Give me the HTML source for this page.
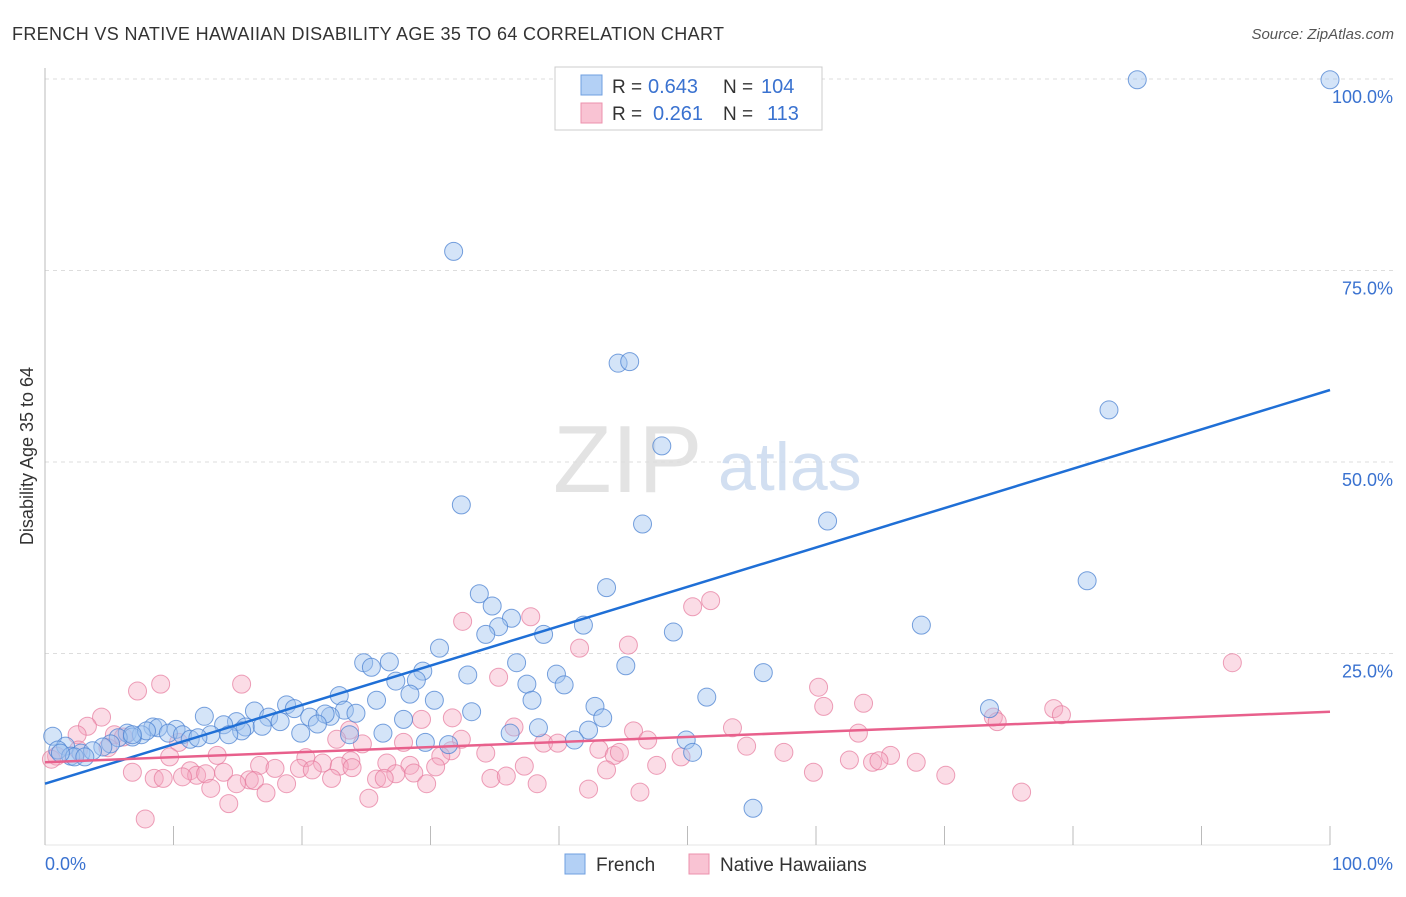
<!DOCTYPE html>
<html><head><meta charset="utf-8"><style>
body{margin:0;background:#fff;font-family:"Liberation Sans",sans-serif;}
svg text{font-family:"Liberation Sans",sans-serif;}
</style></head><body>
<svg id="chart" width="1406" height="892" xmlns="http://www.w3.org/2000/svg">
<text x="12" y="40" font-size="18" fill="#333" textLength="712">FRENCH VS NATIVE HAWAIIAN DISABILITY AGE 35 TO 64 CORRELATION CHART</text>
<text x="1394" y="39" font-size="15" fill="#555" text-anchor="end" font-style="italic">Source: ZipAtlas.com</text>
<g id="grid"></g>
<g>
<text x="553" y="492" font-size="96" font-family="Liberation Serif" fill="#ddd" opacity="0.8">ZIP</text>
<text x="718" y="490" font-size="68" fill="#c8d8ee" opacity="0.8">atlas</text>
</g>
<text transform="translate(33,456) rotate(-90)" font-size="18" fill="#333" text-anchor="middle">Disability Age 35 to 64</text>
<g id="points"></g>
<g id="trends"></g>
<g>
<rect x="555" y="67" width="267" height="63" fill="#fff" stroke="#ccc"/>
<rect x="581" y="75" width="21" height="20" fill="#b3d0f5" stroke="#6f9fe0"/>
<rect x="581" y="103" width="21" height="20" fill="#f9c3d3" stroke="#ec92ad"/>
<text x="612" y="93" font-size="19" fill="#333">R = </text><text x="648" y="93" font-size="20" fill="#3a72d0">0.643</text>
<text x="723" y="93" font-size="19" fill="#333">N = </text><text x="761" y="93" font-size="20" fill="#3a72d0">104</text>
<text x="612" y="120" font-size="19" fill="#333">R = </text><text x="653" y="120" font-size="20" fill="#3a72d0">0.261</text>
<text x="723" y="120" font-size="19" fill="#333">N = </text><text x="767" y="120" font-size="20" fill="#3a72d0">113</text>
</g>
<g>
<rect x="565" y="854" width="20" height="20" fill="#b3d0f5" stroke="#6f9fe0"/>
<text x="596" y="871" font-size="19" fill="#333">French</text>
<rect x="689" y="854" width="20" height="20" fill="#f9c3d3" stroke="#ec92ad"/>
<text x="720" y="871" font-size="19" fill="#333">Native Hawaiians</text>
</g>
</svg>
<script>
const yTicks=[25,50,75,100];
const yTickLabels=["25.0%","50.0%","75.0%","100.0%"];
const xTickLabels=["0.0%","100.0%"];
const frenchX=[85.0,100,31.8,44.6,45.5,48.0,82.8,32.4,46.5,60.9,81.1,68.2,33.8,34.8,43.7,36.3,35.3,34.3,38.8,41.9,48.9,30.7,24.8,25.4,26.8,36.7,45.2,55.9,32.9,39.8,29.4,27.3,28.9,37.5,40.4,28.4,22.9,30.3,37.9,25.8,51.5,73.5,42.8,18.8,19.4,16.3,23.3,24.2,33.2,27.9,43.4,12.4,17.4,20.6,22.2,21.8,14.9,18.3,21.2,13.9,8.4,8.8,10.2,15.6,16.9,15.3,19.9,6.4,7.5,9.6,10.7,12.9,26.3,36.2,38.4,42.3,23.7,6.8,11.3,11.9,14.3,5.7,0.6,41.2,49.9,29.6,31.4,5.1,4.5,1.6,1.0,50.4,2.8,3.7,2.0,2.3,3.1,1.2,55.1,7.9,6.8];
const frenchY=[99.9,99.9,77.5,62.9,63.1,52.1,56.8,44.4,41.9,42.3,34.5,28.7,32.8,31.2,33.6,29.6,28.5,27.5,27.5,28.7,27.8,25.7,23.8,23.2,23.9,23.8,23.4,22.5,22.2,22.3,22.7,21.4,21.5,21.0,20.9,19.7,19.5,18.9,18.9,18.9,19.3,17.8,18.1,18.3,17.8,17.5,17.6,17.2,17.4,16.4,16.6,16.8,16.7,16.7,16.8,17.1,16.1,16.1,15.8,15.7,15.4,15.3,15.1,15.4,15.5,14.9,14.6,14.6,14.4,14.6,14.4,14.4,14.6,14.6,15.3,15.0,14.4,14.1,13.8,14.0,14.4,14.0,14.2,13.7,13.7,13.4,13.1,13.2,12.8,12.9,12.4,12.1,12.0,12.3,11.6,11.5,11.5,12.0,4.8,14.9,14.4];
const hawX=[92.4,51.8,50.4,37.8,32.5,45.4,41.6,35.3,9.0,7.2,15.3,60.2,63.7,60.6,78.5,79.1,73.8,74.1,4.4,3.3,29.3,31.7,36.5,23.7,53.5,63.3,45.8,2.5,5.4,6.1,46.9,22.7,10.4,24.7,32.4,38.8,39.9,54.6,27.9,43.1,2.6,4.9,0.9,0.5,57.5,65.8,67.8,13.4,9.7,34.3,31.6,30.8,44.3,44.7,20.3,21.6,23.8,26.6,28.4,47.6,49.5,62.6,64.4,64.9,16.7,17.9,19.8,20.8,22.9,23.9,30.4,37.3,43.7,6.8,11.3,11.8,12.5,13.9,27.3,28.7,59.8,70.1,8.5,9.2,10.7,15.9,16.3,22.3,25.8,26.4,34.7,35.9,14.9,18.8,29.7,38.3,12.9,17.2,42.3,46.3,76.0,25.2,14.3,7.8];
const hawY=[23.8,31.9,31.1,29.8,29.2,26.1,25.7,21.9,21.0,20.1,21.0,20.6,18.5,18.1,17.8,17.0,16.7,16.1,16.7,15.5,16.4,16.6,15.4,15.0,15.3,14.6,14.9,14.4,14.4,14.1,13.7,13.8,13.4,13.2,13.8,13.3,13.3,12.9,13.4,12.5,12.4,12.7,11.6,11.2,12.1,11.7,10.8,11.7,11.5,12.0,12.3,11.6,11.7,12.1,11.4,10.7,11.0,10.7,10.4,10.4,11.5,11.1,10.8,11.0,10.4,10.0,10.0,9.8,10.3,10.1,10.2,10.3,9.8,9.5,9.7,9.1,9.3,9.5,9.3,9.4,9.5,9.1,8.7,8.7,8.9,8.5,8.4,8.7,8.6,8.7,8.7,9.0,8.0,8.0,8.0,8.0,7.4,6.8,7.3,6.9,6.9,6.1,5.4,3.4];
const frenchTrend=[8.0,59.4];
const hawTrend=[10.8,17.4];

const NS="http://www.w3.org/2000/svg";
const X=v=>45+v*12.85;
const Y=v=>845-v*7.66;
function mk(tag,attrs,parent){const e=document.createElementNS(NS,tag);for(const k in attrs)e.setAttribute(k,attrs[k]);parent.appendChild(e);return e;}
const grid=document.getElementById('grid');
yTicks.forEach((t,i)=>{
  const l=mk('line',{x1:45,x2:1394,y1:Y(t),y2:Y(t),stroke:'#ddd','stroke-dasharray':'4,4'},grid);
  
  
  const tx=mk('text',{x:1393,y:Y(t)+24,'font-size':18,fill:'#3a72d0','text-anchor':'end'},grid);
  tx.textContent=yTickLabels[i];
  
  
});
const ax=mk('line',{x1:45,x2:45,y1:68,y2:845,stroke:'#bbb'},grid);


const bx=mk('line',{x1:45,x2:1330,y1:845,y2:845,stroke:'#e4e4e4'},grid);


for(let i=0;i<=10;i++){
  const t=mk('line',{x1:X(i*10),x2:X(i*10),y1:826,y2:845,stroke:'#bbb'},grid);
  
  
}
[0,100].forEach((v,i)=>{
  const tx=mk('text',{x:i?1393:45,y:870,'font-size':18,fill:'#3a72d0','text-anchor':i?'end':'start'},grid);
  tx.textContent=xTickLabels[i];
  
  
});
const pts=document.getElementById('points');
hawX.forEach((v,i)=>{
  const c=mk('circle',{cx:X(v),cy:Y(hawY[i]),r:9,fill:'rgba(245,168,192,0.4)',stroke:'rgba(230,120,155,0.7)','stroke-width':1},pts);
  
  
});
frenchX.forEach((v,i)=>{
  const c=mk('circle',{cx:X(v),cy:Y(frenchY[i]),r:9,fill:'rgba(160,195,240,0.45)',stroke:'rgba(75,130,210,0.75)','stroke-width':1},pts);
  
  
});
const tr=document.getElementById('trends');
const t1=mk('line',{x1:X(0),y1:Y(frenchTrend[0]),x2:X(100),y2:Y(frenchTrend[1]),stroke:'#1f6fd6','stroke-width':2.5},tr);


const t2=mk('line',{x1:X(0),y1:Y(hawTrend[0]),x2:X(100),y2:Y(hawTrend[1]),stroke:'#e8608c','stroke-width':2.5},tr);


</script>
</body></html>
